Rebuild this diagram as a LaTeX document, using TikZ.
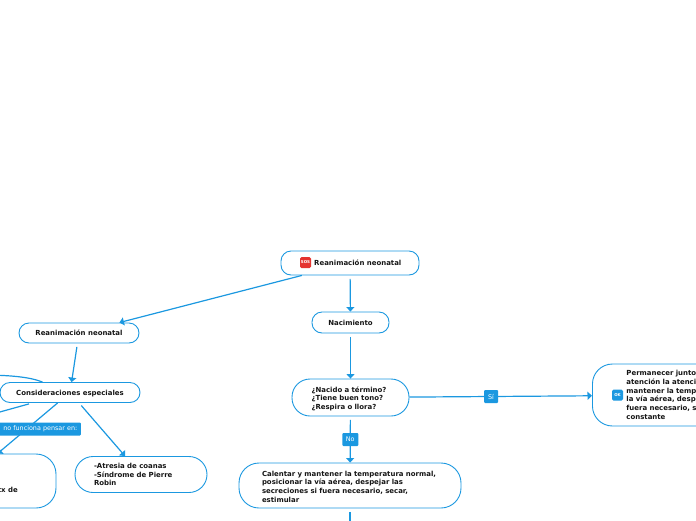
\documentclass[tikz,border=0pt]{standalone}
\usepackage{fontspec}
\setmainfont{DejaVu Sans}
\usetikzlibrary{arrows.meta}
\definecolor{mapblue}{HTML}{1B98E0}
\definecolor{maptext}{HTML}{151515}
\definecolor{sosred}{HTML}{E5332F}
\tikzset{
  topic/.style={draw=mapblue,line width=0.9pt,fill=white,rectangle,inner sep=0pt,text=maptext,
    font=\fontsize{6.95}{8.7}\selectfont\bfseries,align=left},
  pill/.style={topic,rounded corners=10pt,text height=7.2pt,text depth=1.6pt},
  bigpill/.style={topic,rounded corners=18pt},
  link/.style={draw=mapblue,line width=1.2pt,shorten <=3.5pt,-{Triangle[width=8pt,length=4.5pt]}},
  touching/.style={shorten <=0pt},
  plainlink/.style={draw=mapblue,line width=1.2pt,shorten <=3.5pt},
  edgelabel/.style={fill=mapblue,text=white,rounded corners=1pt,inner sep=0pt,
    font=\fontsize{6.4}{7.5}\selectfont},
  icon/.style={rounded corners=1.5pt,minimum size=11pt,inner sep=0pt,text=white,
    font=\fontsize{4}{4.5}\selectfont\bfseries}
}
\begin{document}
\begin{tikzpicture}[x=1pt,y=-1pt]
\useasboundingbox (0,0) rectangle (696,520);
\clip (0,0) rectangle (696,520);
% topics
\node[pill,minimum width=138pt,minimum height=24pt] (root) at (350,263) {};
\node[icon,fill=sosred] (sos) at (305.5,262.5) {SOS};
\node[anchor=west,inner sep=0pt,text=maptext,font=\fontsize{6.95}{8.7}\selectfont\bfseries] (roottext) at (314,262.5) {Reanimación neonatal};
\node[pill,minimum width=77pt,minimum height=21pt] (nac) at (350.5,322.5) {Nacimiento};
\node[bigpill,minimum width=117pt,minimum height=37pt,text width=78pt] (q) at (350.5,397.5) {\rule{0pt}{8pt}¿Nacido a término?\\¿Tiene buen tono?\\¿Respira o llora?};
\node[bigpill,rounded corners=20pt,minimum width=222pt,minimum height=45pt,text width=176pt] (cal) at (350,485.5) {\rule{0pt}{7.5pt}Calentar y mantener la temperatura normal,\\posicionar la vía aérea, despejar las\\secreciones si fuera necesario, secar,\\estimular};
\node[pill,minimum width=120pt,minimum height=20pt] (rean) at (79,333) {Reanimación neonatal};
\node[pill,minimum width=140pt,minimum height=20pt] (cons) at (70,392.5) {Consideraciones especiales};
\node[bigpill,minimum width=132pt,minimum height=36pt,text width=94pt] (atr) at (141,474.5) {-Atresia de coanas\\-Síndrome de Pierre\\Robin};
\node[bigpill,rounded corners=20pt,minimum width=182pt,minimum height=54pt] (left) at (-35,481) {};
\node[anchor=east,inner sep=0pt,text=maptext,font=\fontsize{6.95}{8.7}\selectfont\bfseries] (lefttext) at (18,490) {tx de};
\node[topic,rounded corners=20pt,anchor=west,minimum height=62pt,inner xsep=34pt,text width=150pt] (perm) at (592,395) {Permanecer junto\\atención la atenci\\mantener la temp\\la vía aérea, desp\\fuera necesario, s\\constante};
\node[icon,fill=mapblue] (ok) at (617.5,395) {OK};
% free ends, outside the picture
\coordinate (offA) at (-20,375);
\coordinate (offB) at (-20,417.5);
\coordinate (offC) at (350,535);
% connectors
\draw[link] (root) -- (nac);
\draw[link,touching] (root) -- (rean);
\draw[link] (nac) -- (q);
\draw[link] (q) -- node[edgelabel,pos=.5,minimum width=16pt,minimum height=13pt] (no) {No} (cal);
\draw[link,touching] (q) -- node[edgelabel,pos=.447,minimum width=14pt,minimum height=13pt] (si) {Sí} (perm);
\draw[plainlink] (cal) -- (offC);
\draw[link] (rean) -- (cons);
\draw[link] (cons) -- (atr);
\draw[link,touching] (cons) -- (left);
\draw[plainlink,shorten <=0pt] (cons.north west) ++(43,0) coordinate (consup) .. controls (30,377) and (10,375) .. (offA);
\draw[plainlink] (cons) -- (offB);
\node[edgelabel,anchor=east,text width=78pt,align=right,minimum height=13pt,inner xsep=3.5pt] (lab) at (81,429) {no funciona pensar en:};
\end{tikzpicture}
\end{document}
